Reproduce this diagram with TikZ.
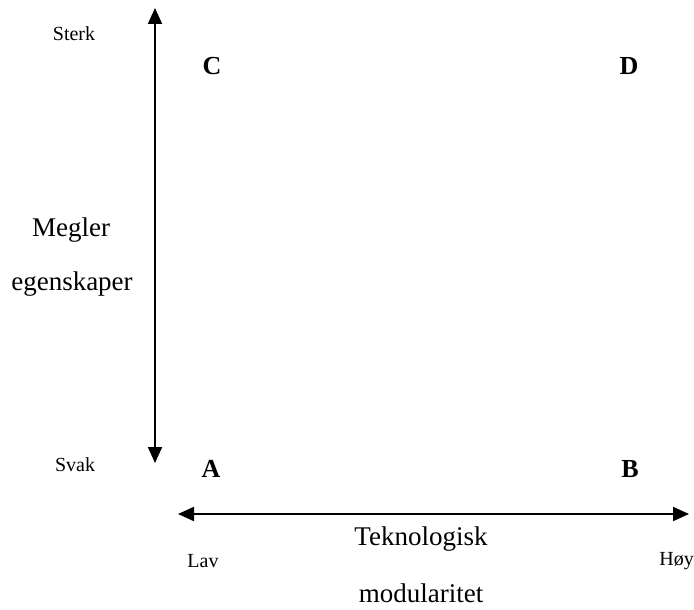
\documentclass[tikz,border=0pt]{standalone}
\usepackage{fontspec}
\setmainfont{Liberation Serif}
\usetikzlibrary{arrows.meta}
\tikzset{
  axis/.style={line width=2pt, {Triangle[length=16pt,width=14pt]}-{Triangle[length=16pt,width=14pt]}},
  small/.style={font=\fontsize{20}{24}\selectfont, inner sep=0pt},
  big/.style={font=\fontsize{27}{32}\selectfont, inner sep=0pt},
  corner/.style={font=\fontsize{26}{30}\selectfont\bfseries, inner sep=0pt}
}
\begin{document}
\begin{tikzpicture}[x=1pt,y=-1pt]
\useasboundingbox (0,0) rectangle (694,610);
\coordinate (vt) at (155,8);
\coordinate (vb) at (155,463);
\coordinate (hl) at (178,514);
\coordinate (hr) at (689,514);
\draw[axis] (vb) -- (vt);
\draw[axis] (hl) -- (hr);
\node[small] (sterk) at (74,34) {Sterk};
\node[small] (svak) at (75,465) {Svak};
\node[corner] (c) at (212,66) {C};
\node[corner] (d) at (629,66) {D};
\node[corner] (a) at (211,469) {A};
\node[corner] (b) at (630,469) {B};
\node[big] (m1) at (71,230) {Megler};
\node[big] (m2) at (72,284) {egenskaper};
\node[big] (t1) at (421,539) {Teknologisk};
\node[big] (t2) at (421,593) {modularitet};
\node[small] (lav) at (203,561) {Lav};
\node[small,anchor=east] (hoy) at (694,561) {Høy};
\end{tikzpicture}
\end{document}
